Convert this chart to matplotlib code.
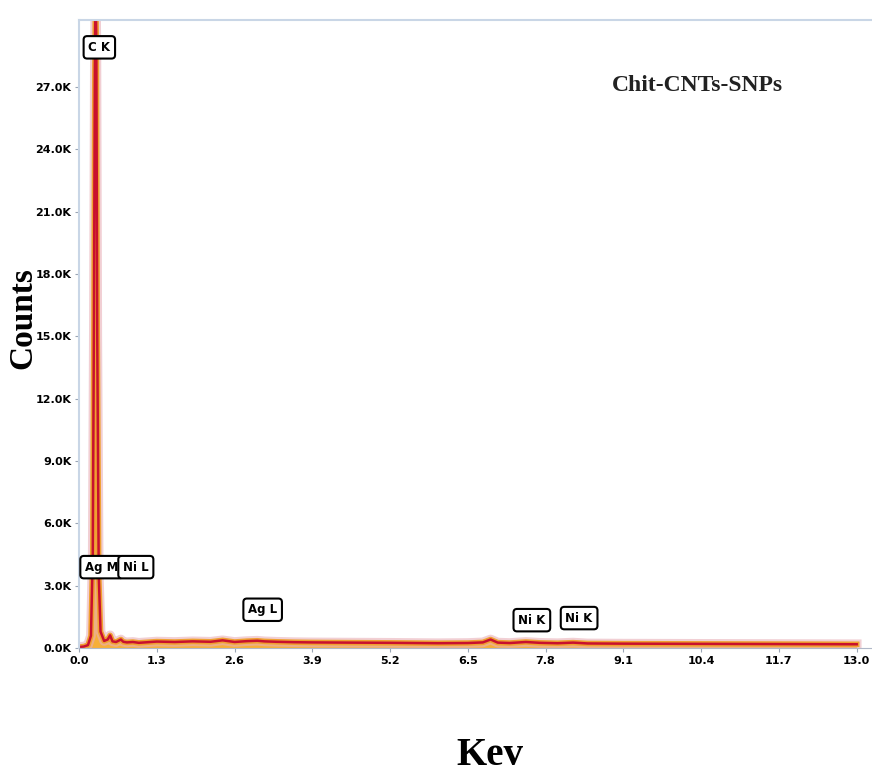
import numpy as np
import matplotlib.pyplot as plt

# EDS spectrum, energy in keV and counts
energy = [0.0, 0.08, 0.15, 0.2, 0.23, 0.25, 0.265, 0.277, 0.29, 0.305, 0.33, 0.36,
          0.42, 0.48, 0.52, 0.56, 0.62, 0.7, 0.74, 0.8, 0.9, 1.0, 1.3, 1.6, 1.9,
          2.2, 2.4, 2.6, 2.8, 2.98, 3.1, 3.3, 3.6, 3.9, 4.5, 5.2, 6.0, 6.5, 6.75,
          6.88, 7.0, 7.2, 7.47, 7.7, 8.0, 8.26, 8.5, 9.1, 10.4, 11.7, 13.0]
counts = [60, 80, 150, 600, 4500, 16000, 28000, 32000, 29000, 15000, 3500, 800,
          350, 420, 620, 330, 300, 420, 310, 280, 300, 260, 320, 300, 330,
          310, 380, 300, 340, 360, 330, 310, 290, 280, 270, 260, 240, 250, 280,
          420, 270, 250, 300, 260, 240, 270, 230, 220, 210, 200, 190]

yticks = [0, 3000, 6000, 9000, 12000, 15000, 18000, 21000, 24000, 27000]
ytick_labels = ["0.0K", "3.0K", "6.0K", "9.0K", "12.0K", "15.0K", "18.0K",
                "21.0K", "24.0K", "27.0K"]
xticks = [0.0, 1.3, 2.6, 3.9, 5.2, 6.5, 7.8, 9.1, 10.4, 11.7, 13.0]

# element line labels: text, energy, counts
peak_labels = ["C K", "Ag M", "Ni L", "Ag L", "Ni K", "Ni K"]
peak_x = [0.34, 0.38, 0.95, 3.07, 7.57, 8.36]
peak_y = [28900, 3900, 3900, 1850, 1350, 1450]

fig = plt.figure(figsize=(8.72, 7.81), dpi=100)
ax = fig.add_axes([0.0906, 0.170, 0.909, 0.804])

ax.fill_between(energy, counts, color="#f5a623", alpha=0.9, lw=0)
ax.plot(energy, counts, color="#e8b0b8", lw=7, alpha=0.6, solid_joinstyle="round")
ax.plot(energy, counts, color="#f0a030", lw=4, solid_joinstyle="round")
ax.plot(energy, counts, color="#c8102e", lw=1.8, solid_joinstyle="round")

ax.set_xlim(0, 13.25)
ax.set_ylim(0, 30200)
ax.set_xticks(xticks)
ax.set_xticklabels([f"{t:.1f}" for t in xticks])
ax.set_yticks(yticks)
ax.set_yticklabels(ytick_labels)
ax.tick_params(length=3, width=0.8, color="#9aa5b5", pad=2.5)
for lab in ax.get_xticklabels() + ax.get_yticklabels():
    lab.set_fontsize(8)
    lab.set_fontweight("bold")

for side in ["left", "top"]:
    ax.spines[side].set_color("#c9d6e6")
    ax.spines[side].set_linewidth(1.5)
ax.spines["right"].set_visible(False)
ax.spines["bottom"].set_color("#b0b8c8")

for txt, x, y in zip(peak_labels, peak_x, peak_y):
    ax.text(x, y, txt, ha="center", va="center", fontsize=8.5, fontweight="bold",
            bbox=dict(boxstyle="round,pad=0.4,rounding_size=0.3", fc="white",
                      ec="black", lw=1.5))

ax.text(0.78, 0.896, "Chit-CNTs-SNPs", transform=ax.transAxes, ha="center",
        va="center", fontsize=17, fontweight="bold", family="Liberation Serif",
        color="#222222")

fig.text(0.026, 0.593, "Counts", rotation=90, ha="center", va="center",
         fontsize=24, fontweight="bold", family="Liberation Serif")
fig.text(0.562, 0.033, "Kev", ha="center", va="center",
         fontsize=28, fontweight="bold", family="Liberation Serif")

fig.savefig("out.png", dpi=100)
